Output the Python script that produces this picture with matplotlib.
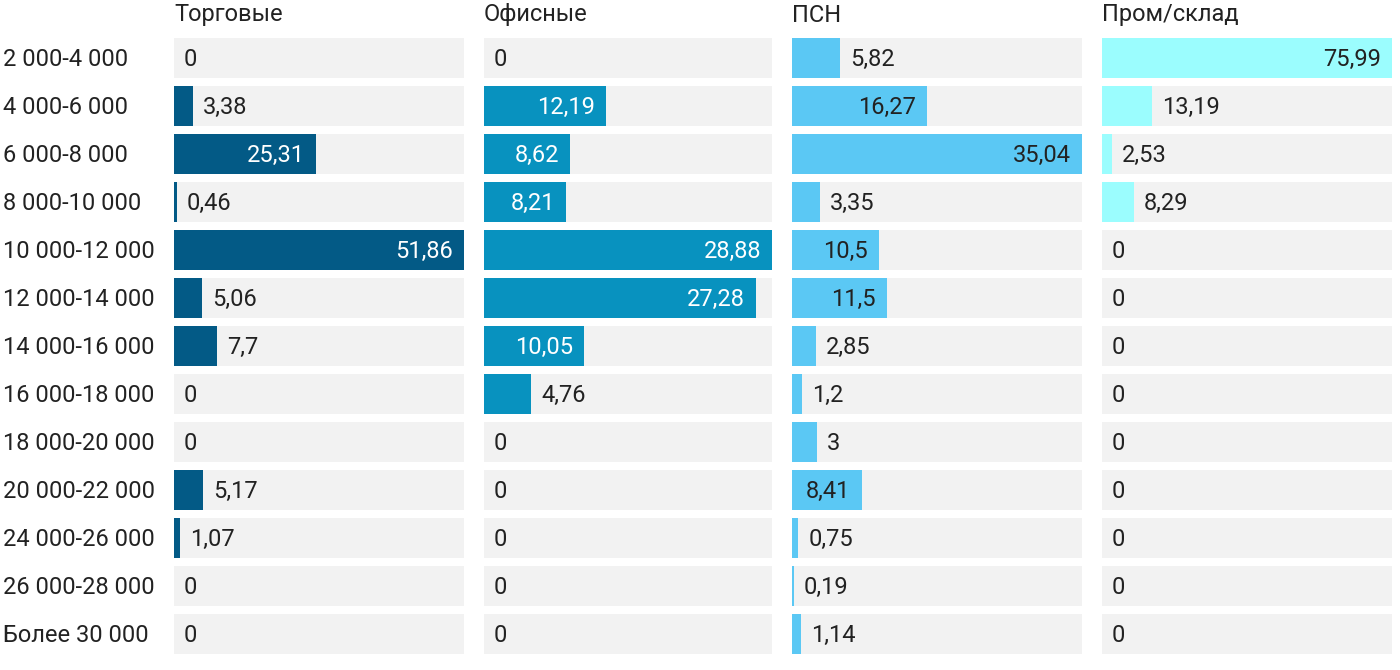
import matplotlib
matplotlib.use("Agg")
import matplotlib.pyplot as plt
from matplotlib.transforms import blended_transform_factory

plt.rcParams['font.family'] = ['Roboto', 'DejaVu Sans']

categories = ["2 000-4 000", "4 000-6 000", "6 000-8 000", "8 000-10 000",
              "10 000-12 000", "12 000-14 000", "14 000-16 000", "16 000-18 000",
              "18 000-20 000", "20 000-22 000", "24 000-26 000", "26 000-28 000",
              "Более 30 000"]
titles = ["Торговые", "Офисные", "ПСН", "Пром/склад"]
trade = [0, 3.38, 25.31, 0.46, 51.86, 5.06, 7.7, 0, 0, 5.17, 1.07, 0, 0]
office = [0, 12.19, 8.62, 8.21, 28.88, 27.28, 10.05, 4.76, 0, 0, 0, 0, 0]
psn = [5.82, 16.27, 35.04, 3.35, 10.5, 11.5, 2.85, 1.2, 3, 8.41, 0.75, 0.19, 1.14]
industrial = [75.99, 13.19, 2.53, 8.29, 0, 0, 0, 0, 0, 0, 0, 0, 0]

series = [trade, office, psn, industrial]
colors = ["#035a86", "#0892bf", "#5bc8f4", "#9bfdfe"]
inside_text = ["white", "white", "#222222", "#222222"]

W, H = 1400, 670
fig = plt.figure(figsize=(W / 100, H / 100), dpi=100)

panel_x = [174, 484, 792, 1102]
panel_w = [290, 288, 290, 290]
top_px, bot_px = 34, 658
n = len(categories)
FS = 17
dy = 0.03

def fmt(v):
    return ("%g" % v).replace(".", ",")

for i, (vals, col) in enumerate(zip(series, colors)):
    ax = fig.add_axes([panel_x[i] / W, (H - bot_px) / H, panel_w[i] / W, (bot_px - top_px) / H])
    vmax = max(vals)
    ys = list(range(n))
    ax.barh(ys, [vmax] * n, height=40 / 48, color="#f2f2f2", zorder=1)
    ax.barh(ys, vals, height=40 / 48, color=col, zorder=2)
    ax.set_xlim(0, vmax)
    ax.set_ylim(n - 0.5, -0.5)
    ax.axis("off")
    for y, v in zip(ys, vals):
        px = v / vmax * panel_w[i]
        label = fmt(v)
        if px > 60:
            ax.text(v - 11 / panel_w[i] * vmax, y + dy, label, ha="right", va="center",
                    fontsize=FS, color=inside_text[i], zorder=3)
        else:
            ax.text(v + 10 / panel_w[i] * vmax, y + dy, label, ha="left", va="center",
                    fontsize=FS, color="#222222", zorder=3)
    fig.text(panel_x[i] / W, 1 - 15 / H, titles[i], ha="left", va="center",
             fontsize=FS, color="#222222")
    if i == 0:
        tr = blended_transform_factory(fig.transFigure, ax.transData)
        for y, c in enumerate(categories):
            ax.text(3 / W, y + dy, c, transform=tr, ha="left", va="center",
                    fontsize=FS, color="#222222")

fig.savefig("out.png", dpi=100)
